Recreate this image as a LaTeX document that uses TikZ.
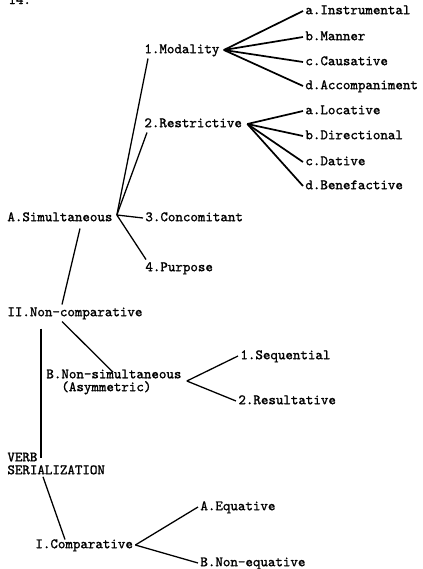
\documentclass[tikz,border=0pt]{standalone}
\usepackage{fontspec}
\newfontfamily\typewr{Latin Modern Mono}[FakeBold=1.3]
\usetikzlibrary{positioning}
\tikzset{
	cat/.style={font=\typewr\fontsize{10}{9}\selectfont, inner sep=1.5pt, anchor=west},
	catone/.style={cat, text height=6.5pt, text depth=2pt},
	branch/.style={line width=0.9pt},
	fan/.style={line width=1.2pt}
}
\begin{document}
\begin{tikzpicture}[x=0.7pt, y=-0.7pt]
	\useasboundingbox (0,0) rectangle (422,569);
	\fill[white] (0,0) rectangle (422,569);
	\node[cat, anchor=base west] (pagenum) at (6,4) {14.};

	\node[catone] (ins) at (303,11) {a.Instrumental};
	\node[catone] (man) at (303,37) {b.Manner};
	\node[catone] (cau) at (303,62) {c.Causative};
	\node[catone] (acc) at (303,86) {d.Accompaniment};
	\node[catone] (loc) at (303,111) {a.Locative};
	\node[catone] (dir) at (303,136) {b.Directional};
	\node[catone] (dat) at (303,162) {c.Dative};
	\node[catone] (ben) at (303,186) {d.Benefactive};

	\node[catone] (mod) at (142,50) {1.Modality};
	\node[catone] (rst) at (142,124) {2.Restrictive};
	\node[catone] (sim) at (5,218) {A.Simultaneous};
	\node[catone] (con) at (143,218) {3.Concomitant};
	\node[catone] (pur) at (143,268) {4.Purpose};
	\node[catone] (ncp) at (5,313) {II.Non-comparative};
	\node[cat, align=left] (nsm) at (44,382) {B.Non-simultaneous\\\phantom{B.}(Asymmetric)};
	\node[catone] (seq) at (238,356) {1.Sequential};
	\node[catone] (rsl) at (236,401) {2.Resultative};
	\node[cat, align=left] (vs) at (5,463.5) {VERB\\SERIALIZATION};
	\node[catone] (cmp) at (33,545) {I.Comparative};
	\node[catone] (equ) at (198,507) {A.Equative};
	\node[catone] (neq) at (198,563) {B.Non-equative};

	\coordinate (modj) at ([shift={(2,0)}]mod.east);
	\coordinate (rstj) at ([shift={(3,0)}]rst.east);
	\coordinate (simj) at ([shift={(2,-3)}]sim.east);
	\coordinate (nsmj) at ([shift={(3,-1)}]nsm.east);
	\coordinate (cmpj) at (cmp.east);

	\foreach \leaf in {ins,man,cau,acc}
		\draw[fan] (modj) -- (\leaf.west);
	\foreach \leaf in {loc,dir,dat,ben}
		\draw[fan] (rstj) -- (\leaf.west);

	\draw[branch] (simj) -- ([shift={(6,0)}]mod.south west);
	\draw[branch] (simj) -- ([shift={(5,0)}]rst.south west);
	\draw[branch] (simj) -- (con.west);
	\draw[branch] (simj) -- ([shift={(3,0)}]pur.north west);
	\draw[branch] ([shift={(75,2)}]sim.south west) -- ([shift={(57,0)}]ncp.north west);
	\draw[branch] ([shift={(57,0)}]ncp.south west) -- ([shift={(69,5)}]nsm.north west);
	\draw[branch] (nsmj) -- (seq.west);
	\draw[branch] (nsmj) -- (rsl.west);
	\draw[branch] ([shift={(36,7)}]ncp.south west) -- ([shift={(36,8)}]vs.north west);
	\draw[branch] ([shift={(38,0)}]vs.south west) -- ([shift={(32,3)}]cmp.north west);
	\draw[branch] (cmpj) -- (equ.west);
	\draw[branch] (cmpj) -- (neq.west);
\end{tikzpicture}
\end{document}
